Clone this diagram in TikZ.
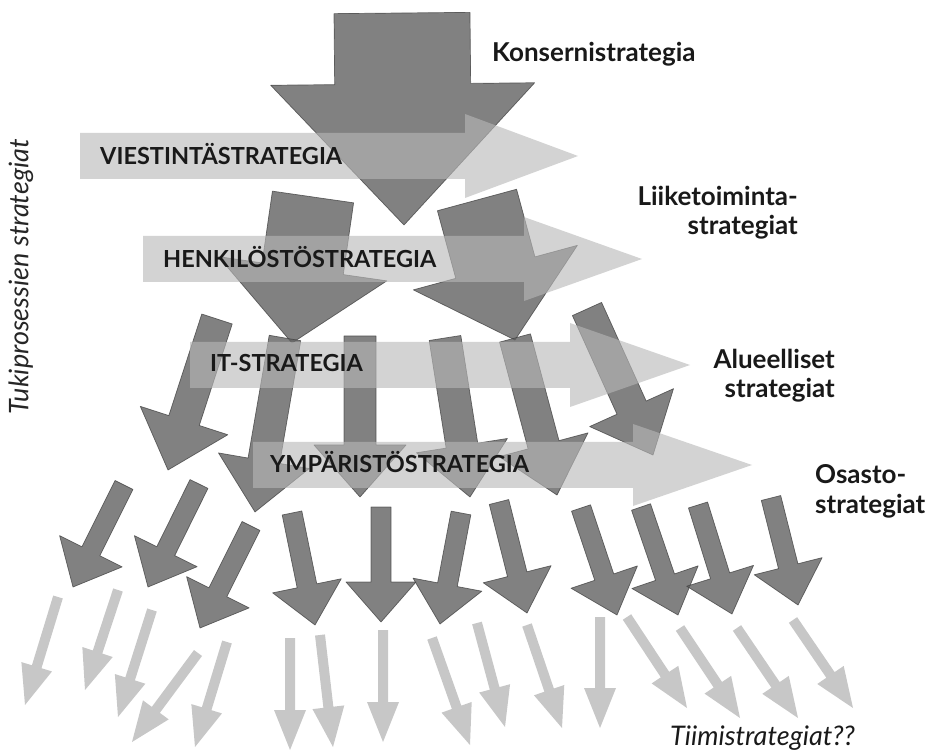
\documentclass[tikz,border=0pt]{standalone}
\usepackage{fontspec}
\setmainfont{Lato}
\usetikzlibrary{calc}

\definecolor{darkfill}{gray}{0.38}
\definecolor{bandfill}{gray}{0.72}
\definecolor{teamfill}{gray}{0.78}

% block arrow: [style]{tail}{tip}{shaft half width}{head half width}{head length}
\newcommand\blockarrow[6][darkarrow]{%
  \coordinate (hb) at ($(#3)!#6pt!(#2)$);
  \path[#1] ($(#2)!#4pt!90:(#3)$) -- ($(hb)!#4pt!90:(#3)$) -- ($(hb)!#5pt!90:(#3)$)
    -- (#3) -- ($(hb)!#5pt!-90:(#3)$) -- ($(hb)!#4pt!-90:(#3)$)
    -- ($(#2)!#4pt!-90:(#3)$) -- cycle;}

\begin{document}
\begin{tikzpicture}[x=1pt,y=-1pt,
    darkarrow/.style={fill=darkfill,fill opacity=0.8,draw=black!75,draw opacity=0.75,
                      line width=0.7pt,line join=round},
    bandarrow/.style={fill=bandfill,fill opacity=0.62},
    teamarrow/.style={fill=teamfill},
    levelname/.style={font=\fontsize{26}{29.5}\selectfont\bfseries,text=black!90,inner sep=0pt},
    bandname/.style={font=\fontsize{23.5}{27}\selectfont\bfseries,text=black!90,inner sep=0pt}]

  \useasboundingbox (0,0) rectangle (930,751);

  % konserni
  \blockarrow{402,13}{404,225}{68}{132}{141}
  % liiketoiminta
  \blockarrow{313,197}{292,343}{41}{85}{75}
  \blockarrow{477,200}{515,340}{41}{85}{75}
  % alueelliset
  \foreach \ax/\ay/\bx/\by in {217/319/168/470, 285/338/255/512, 360/336/360/497,
                               445/338/470/497, 515/338/557/495, 587/309/653/455}
    {\blockarrow{\ax,\ay}{\bx,\by}{16}{46}{52}}
  % osastot
  \foreach \ax/\ay/\bx/\by in {124/485/73/587, 199/484/148/587, 251/526/200/628,
                               292/513/315/625, 381/507/381/622, 461/513/440/624,
                               499/502/527/613, 581/508/617/615, 641/507/678/615,
                               698/505/732/614, 771/498/798/605}
    {\blockarrow{\ax,\ay}{\bx,\by}{10}{35}{40}}
  % tiimit
  \foreach \ax/\ay/\bx/\by in {58/597/25/705, 118/590/85/690, 152/610/118/717,
                               198/653/132/742, 227/642/195/747, 290/638/290/750,
                               320/635/333/747, 383/630/383/742, 432/638/470/745,
                               477/623/505/727, 527/625/562/728, 600/617/600/728,
                               627/617/687/708, 680/628/740/718, 737/628/798/718,
                               793/620/853/708}
    {\blockarrow[teamarrow]{\ax,\ay}{\bx,\by}{5}{16}{40}}

  % tukiprosessit
  \blockarrow[bandarrow]{80,156}{578,156}{23}{42}{113}
  \blockarrow[bandarrow]{143,259}{642,259}{23}{42}{118}
  \blockarrow[bandarrow]{190,365}{690,365}{23}{42}{120}
  \blockarrow[bandarrow]{253,465}{752,465}{23}{41}{119}

  \node[bandname,anchor=base west] (viest) at (100,165) {VIESTINTÄSTRATEGIA};
  \node[bandname,anchor=base west] (henk) at (163,268) {HENKILÖSTÖSTRATEGIA};
  \node[bandname,anchor=base west] (it) at (210,372) {IT-STRATEGIA};
  \node[bandname,anchor=base west] (ymp) at (270,473) {YMPÄRISTÖSTRATEGIA};

  \node[levelname,anchor=base west] (konserni) at (492,62) {Konsernistrategia};
  \node[levelname,anchor=base east,align=right] (liike) at (798,235) {Liiketoiminta-\\strategiat};
  \node[levelname,anchor=base east,align=right] (alue) at (835,398) {Alueelliset\\strategiat};
  \node[levelname,anchor=base west,align=left] (osasto) at (815,513) {Osasto-\\strategiat};
  \node[inner sep=0pt,anchor=base west,font=\fontsize{27}{30}\selectfont\itshape,text=black!90]
    (tiimi) at (670,745) {Tiimistrategiat??};
  \node[inner sep=0pt,rotate=90,font=\fontsize{27}{30}\selectfont\itshape,text=black!85]
    (tuki) at (21,277) {Tukiprosessien strategiat};
\end{tikzpicture}
\end{document}
